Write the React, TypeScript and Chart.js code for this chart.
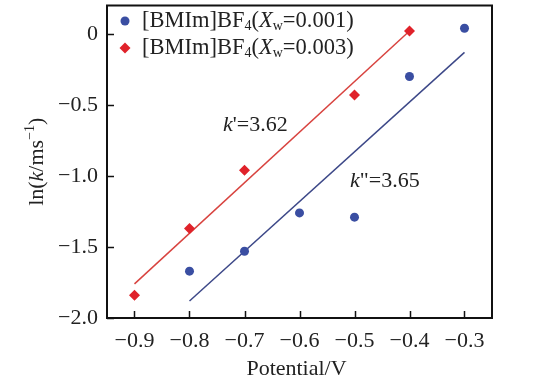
import React, { useEffect, useRef } from "react";
import { Chart, registerables } from "chart.js";

Chart.register(...registerables);

const xTicks = [-0.9, -0.8, -0.7, -0.6, -0.5, -0.4, -0.3];
const yTicks = [-2.0, -1.5, -1.0, -0.5, 0];

const potentialA = [-0.8, -0.7, -0.6, -0.5, -0.4, -0.3];
const lnKA = [-1.67, -1.53, -1.26, -1.29, -0.3, 0.04];
const potentialB = [-0.9, -0.8, -0.7, -0.5, -0.4];
const lnKB = [-1.84, -1.37, -0.96, -0.43, 0.02];

const fitAX = [-0.8, -0.3];
const fitAY = [-1.88, -0.13];
const fitBX = [-0.9, -0.4];
const fitBY = [-1.76, 0.02];

const BLUE = "#3a4ea2";
const BLUE_LINE = "#3d4888";
const RED = "#e0222a";
const RED_LINE = "#d8433f";
const FONT = "'Liberation Serif', 'Times New Roman', serif";
const TEXT = "#222";

type Run = { text: string; italic?: boolean; sub?: boolean; sup?: boolean };

function drawRuns(ctx: CanvasRenderingContext2D, runs: Run[], x: number, y: number, align: "left" | "center", size = 22) {
  const fontOf = (r: Run) => `${r.italic ? "italic " : ""}${r.sub || r.sup ? Math.round(size * 0.64) : size}px ${FONT}`;
  const widths = runs.map((r) => {
    ctx.font = fontOf(r);
    return ctx.measureText(r.text).width;
  });
  const total = widths.reduce((a, b) => a + b, 0);
  let cx = align === "center" ? x - total / 2 : x;
  ctx.textAlign = "left";
  ctx.textBaseline = "middle";
  runs.forEach((r, i) => {
    ctx.font = fontOf(r);
    const dy = r.sub ? 5 : r.sup ? -7 : 0;
    ctx.fillText(r.text, cx, y + dy);
    cx += widths[i];
  });
}

const fmt = (v: number) => (v === 0 ? "0" : (v < 0 ? "\u2212" : "") + Math.abs(v).toFixed(1));

const decorPlugin = {
  id: "decor",
  afterDraw(chart: any) {
    const ctx: CanvasRenderingContext2D = chart.ctx;
    const { left, right, top, bottom } = chart.chartArea;
    const xs = chart.scales.x;
    const ys = chart.scales.y;
    ctx.save();
    ctx.strokeStyle = "#111";
    ctx.lineWidth = 2;
    ctx.strokeRect(left, top, right - left, bottom - top);
    ctx.beginPath();
    xTicks.forEach((v) => {
      const px = Math.round(xs.getPixelForValue(v)) + 0.5;
      ctx.moveTo(px, bottom);
      ctx.lineTo(px, bottom - 7);
    });
    yTicks.forEach((v) => {
      const py = Math.round(ys.getPixelForValue(v)) + 0.5;
      ctx.moveTo(left, py);
      ctx.lineTo(left + 7, py);
    });
    ctx.lineWidth = 1.5;
    ctx.stroke();

    // legend
    ctx.fillStyle = BLUE;
    ctx.beginPath();
    ctx.arc(125, 21, 4.5, 0, Math.PI * 2);
    ctx.fill();
    ctx.fillStyle = RED;
    ctx.beginPath();
    ctx.moveTo(125, 42.5);
    ctx.lineTo(130.5, 48);
    ctx.lineTo(125, 53.5);
    ctx.lineTo(119.5, 48);
    ctx.closePath();
    ctx.fill();
    ctx.fillStyle = TEXT;
    drawRuns(ctx, [
      { text: "[BMIm]BF" }, { text: "4", sub: true }, { text: "(" }, { text: "X", italic: true },
      { text: "w", sub: true }, { text: "=0.001)" },
    ], 142, 21, "left", 22.5);
    drawRuns(ctx, [
      { text: "[BMIm]BF" }, { text: "4", sub: true }, { text: "(" }, { text: "X", italic: true },
      { text: "w", sub: true }, { text: "=0.003)" },
    ], 142, 48, "left", 22.5);

    // annotations
    drawRuns(ctx, [{ text: "k", italic: true }, { text: "'=3.62" }], 223, 125, "left");
    drawRuns(ctx, [{ text: "k", italic: true }, { text: "\"=3.65" }], 350, 181, "left");

    // axis titles
    drawRuns(ctx, [{ text: "Potential/V" }], (left + right) / 2 - 3, 369, "center");
    ctx.save();
    ctx.translate(37, (top + bottom) / 2);
    ctx.rotate(-Math.PI / 2);
    drawRuns(ctx, [
      { text: "ln(" }, { text: "k", italic: true }, { text: "/ms" }, { text: "\u22121", sup: true }, { text: ")" },
    ], 0, 0, "center");
    ctx.restore();
    ctx.restore();
  },
};

export default function App() {
  const ref = useRef<HTMLCanvasElement | null>(null);
  useEffect(() => {
    if (!ref.current) return;
    const pts = (xs: number[], ys: number[]) => xs.map((x, i) => ({ x, y: ys[i] }));
    const chart = new Chart(ref.current, {
      type: "scatter",
      data: {
        datasets: [
          {
            label: "[BMIm]BF4(Xw=0.001)",
            data: pts(potentialA, lnKA),
            backgroundColor: BLUE,
            borderColor: BLUE,
            pointStyle: "circle",
            pointRadius: 4.5,
            pointBorderWidth: 0,
            showLine: false,
          },
          {
            label: "[BMIm]BF4(Xw=0.003)",
            data: pts(potentialB, lnKB),
            backgroundColor: RED,
            borderColor: RED,
            pointStyle: "rectRot",
            pointRadius: 5.5,
            pointBorderWidth: 0,
            showLine: false,
          },
          {
            label: "fitA",
            data: pts(fitAX, fitAY),
            borderColor: BLUE_LINE,
            borderWidth: 1.5,
            pointRadius: 0,
            showLine: true,
          },
          {
            label: "fitB",
            data: pts(fitBX, fitBY),
            borderColor: RED_LINE,
            borderWidth: 1.5,
            pointRadius: 0,
            showLine: true,
          },
        ],
      },
      options: {
        animation: false,
        responsive: false,
        layout: { padding: { top: 3, right: 51, left: 0, bottom: 0 } },
        plugins: { legend: { display: false }, tooltip: { enabled: false } },
        scales: {
          x: {
            type: "linear",
            min: -0.95,
            max: -0.25,
            grid: { display: false },
            border: { display: false },
            afterBuildTicks: (s: any) => {
              s.ticks = xTicks.map((v) => ({ value: v }));
            },
            afterFit: (s: any) => {
              s.height = 61;
              s.paddingLeft = 0;
              s.paddingRight = 0;
            },
            ticks: {
              padding: 2,
              maxRotation: 0,
              autoSkip: false,
              color: TEXT,
              font: { family: FONT, size: 22 },
              callback: (v: any) => fmt(Number(v)),
            },
          },
          y: {
            type: "linear",
            min: -2.0,
            max: 0.2,
            grid: { display: false },
            border: { display: false },
            afterBuildTicks: (s: any) => {
              s.ticks = yTicks.map((v) => ({ value: v }));
            },
            afterFit: (s: any) => {
              s.width = 107;
              s.paddingTop = 0;
              s.paddingBottom = 0;
            },
            ticks: {
              padding: 1,
              autoSkip: false,
              color: TEXT,
              font: { family: FONT, size: 22 },
              callback: (v: any) => fmt(Number(v)),
            },
          },
        },
      },
      plugins: [decorPlugin],
    });
    return () => chart.destroy();
  }, []);
  return (
    <div style={{ position: "absolute", left: 0, top: 0, width: 543, height: 379, background: "#fff" }}>
      <canvas ref={ref} width={543} height={379} style={{ display: "block" }} />
    </div>
  );
}
